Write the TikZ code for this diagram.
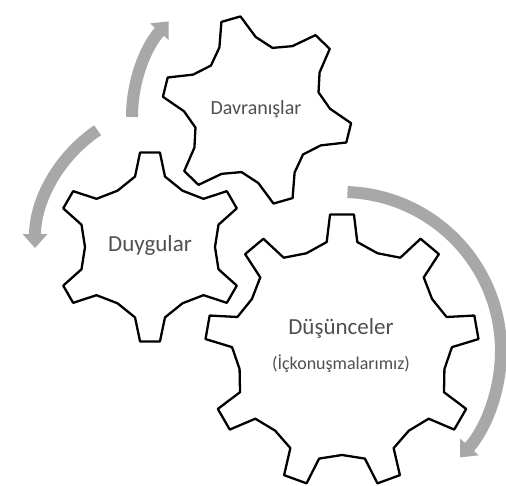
\documentclass[tikz,border=0pt]{standalone}
\usepackage{fontspec}
\setmainfont{Carlito}
\usetikzlibrary{arrows.meta}
\definecolor{arrowgray}{RGB}{168,168,168}
\definecolor{textgray}{RGB}{80,80,80}
\tikzset{
 gearline/.style={draw=black, line width=2.3pt, line join=round, fill=white},
 garrow/.style={draw=arrowgray, line width=12pt, line cap=butt, -{Triangle[width=24pt,length=14pt]}},
 lbl/.style={text=textgray, anchor=base, inner sep=0pt},
}
% cx cy n offset rout rbase rvalley tip base
\newcommand{\drawgear}[9]{%
 \draw[gearline, shift={(#1,#2)}] (#4-#9:#6)
  \foreach \k [evaluate=\k as \a using #4+(\k-1)*360/#3] in {1,...,#3} {
    -- (\a-#9:#6) -- (\a-#8:#5) -- (\a+#8:#5) -- (\a+#9:#6) -- ({\a+180/#3}:#7)
  } -- cycle;
}
\begin{document}
\begin{tikzpicture}[x=1pt,y=1pt]
\useasboundingbox (0,0) rectangle (506,486);
\fill[white] (0,0) rectangle (506,486);
% arrows
\coordinate (a1s) at (132,369);
\draw[garrow] (a1s) arc[start angle=180, end angle=138, radius=143pt];
\coordinate (a2s) at (97.6,355.7);
\draw[garrow] (a2s) arc[start angle=124, end angle=180, radius=142pt];
\coordinate (a3s) at (347.5,293.9);
\draw[garrow] (a3s) arc[start angle=88, end angle=-42, radius=159pt];
% gears
\drawgear{257}{376}{6}{106}{95}{73}{64}{6}{15}
\drawgear{150}{239}{6}{90}{95}{72}{65}{6}{12}
\drawgear{342}{135}{9}{90}{137}{110}{104}{5}{8}
% labels
\node[lbl, font=\fontsize{20}{24}\selectfont] (dav) at (256,371) {Davranışlar};
\node[lbl, font=\fontsize{23}{27}\selectfont] (duy) at (150,234) {Duygular};
\node[lbl, font=\fontsize{23}{27}\selectfont] (dus) at (341,151) {Düşünceler};
\node[lbl, font=\fontsize{18}{22}\selectfont] (ic) at (341,116) {(İçkonuşmalarımız)};
\end{tikzpicture}
\end{document}
